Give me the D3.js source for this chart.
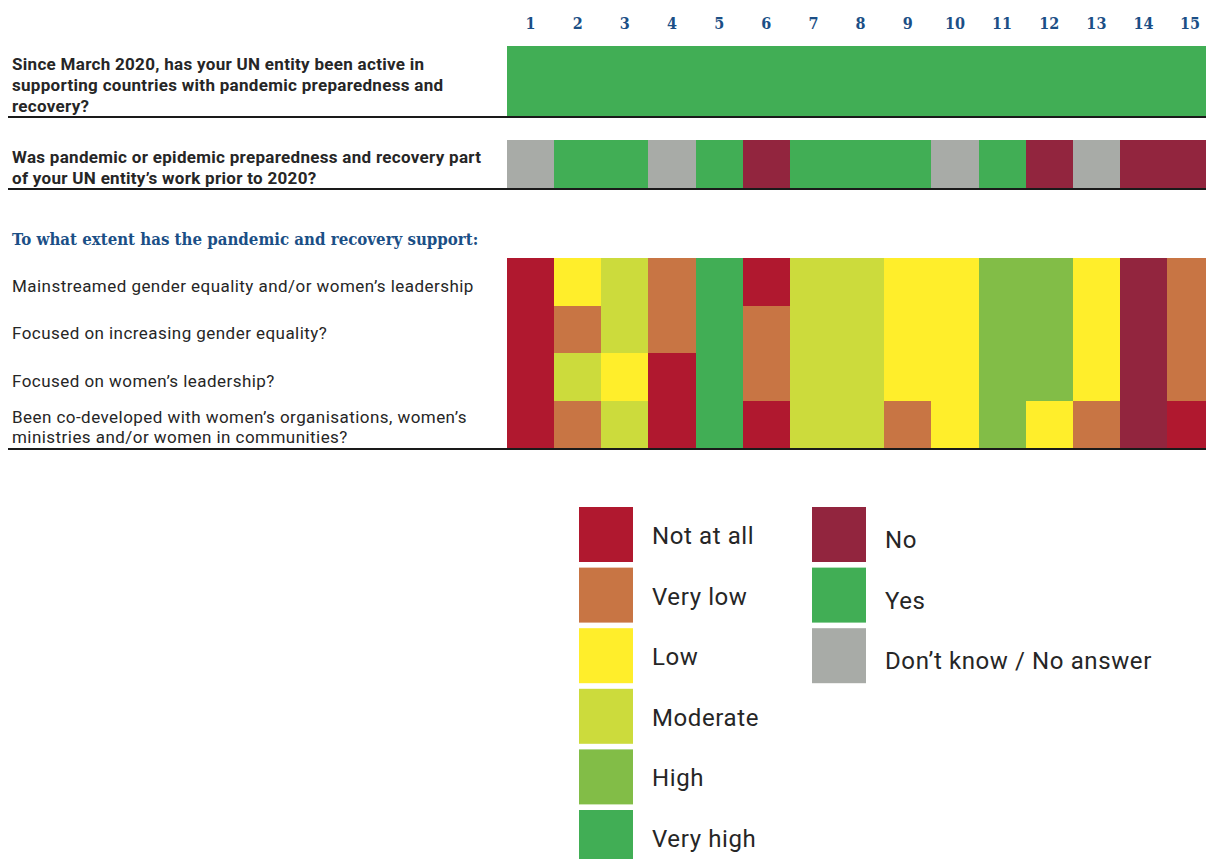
<!DOCTYPE html>
<html>
<head>
<meta charset="utf-8">
<script src="https://cdn.jsdelivr.net/npm/d3@7"></script>
<style>
  body { margin: 0; background: #fff; }
  svg { display: block; }
</style>
</head>
<body>
<script>
//=========================== data ============================================

var entities = d3.range(1, 16);

var yesNoQuestions = [
    ["Since March 2020, has your UN entity been active in",
     "supporting countries with pandemic preparedness and",
     "recovery?"],
    ["Was pandemic or epidemic preparedness and recovery part",
     "of your UN entity\u2019s work prior to 2020?"]
];
var activeSince2020 = ["Yes","Yes","Yes","Yes","Yes","Yes","Yes","Yes","Yes","Yes","Yes","Yes","Yes","Yes","Yes"];
var workPrior2020   = ["DK","Yes","Yes","DK","Yes","No","Yes","Yes","Yes","DK","Yes","No","DK","No","No"];

var sectionTitle = "To what extent has the pandemic and recovery support:";

var extentQuestions = [
    ["Mainstreamed gender equality and/or women\u2019s leadership"],
    ["Focused on increasing gender equality?"],
    ["Focused on women\u2019s leadership?"],
    ["Been co-developed with women\u2019s organisations, women\u2019s",
     "ministries and/or women in communities?"]
];
var mainstreamed   = ["NotAtAll","Low","Moderate","VeryLow","VeryHigh","NotAtAll","Moderate","Moderate","Low","Low","High","High","Low","No","VeryLow"];
var genderEquality = ["NotAtAll","VeryLow","Moderate","VeryLow","VeryHigh","VeryLow","Moderate","Moderate","Low","Low","High","High","Low","No","VeryLow"];
var leadership     = ["NotAtAll","Moderate","Low","NotAtAll","VeryHigh","VeryLow","Moderate","Moderate","Low","Low","High","High","Low","No","VeryLow"];
var coDeveloped    = ["NotAtAll","VeryLow","Moderate","NotAtAll","VeryHigh","NotAtAll","Moderate","Moderate","VeryLow","Low","High","Low","VeryLow","No","NotAtAll"];

var extentKeys   = ["NotAtAll","VeryLow","Low","Moderate","High","VeryHigh"];
var extentLabels = ["Not at all","Very low","Low","Moderate","High","Very high"];
var answerKeys   = ["No","Yes","DK"];
var answerLabels = ["No","Yes","Don\u2019t know / No answer"];

//=========================== drawing =========================================

var color = d3.scaleOrdinal()
    .domain(extentKeys.concat(answerKeys))
    .range(["#b0182f","#c87544","#ffee2b","#ccdb3c","#82bd47","#41ae55",
            "#92253e","#41ae55","#a8aba7"]);

var svg = d3.select("body").append("svg")
    .attr("width", 1206)
    .attr("height", 859);

var x = d3.scaleBand()
    .domain(entities)
    .range([507, 507 + 15 * 47.15]);

var textFont = "Roboto, 'Liberation Sans', sans-serif";
var slabFont = "'DejaVu Serif Condensed', 'DejaVu Serif', serif";

// column numbers
svg.append("g").selectAll("text")
    .data(entities)
    .join("text")
    .attr("x", d => Math.min(x(d) + x.bandwidth() / 2, 1190))
    .attr("y", 29)
    .attr("text-anchor", "middle")
    .style("font-family", slabFont)
    .style("font-weight", "bold")
    .style("font-size", "16px")
    .style("fill", "#1b4f86")
    .text(d => d);

function drawLabel(lines, yTop, lineH, bold) {
    var t = svg.append("text")
        .style("font-family", textFont)
        .style("font-size", "17px")
        .style("letter-spacing", bold ? "0.3px" : "0.45px")
        .style("font-weight", bold ? "bold" : "normal")
        .style("fill", "#262626");
    t.selectAll("tspan")
        .data(lines)
        .join("tspan")
        .attr("x", 12)
        .attr("y", (d, i) => yTop + i * lineH)
        .text(d => d);
}

function drawRule(y) {
    svg.append("line")
        .attr("x1", 8).attr("x2", 1206)
        .attr("y1", y).attr("y2", y)
        .style("stroke", "#1a1a1a")
        .style("stroke-width", 2);
}

// yes / no rows
var yesNoRows = [
    {values: activeSince2020, top: 46, height: 70, labelY: 70},
    {values: workPrior2020,   top: 140, height: 48, labelY: 163}
];
yesNoRows.forEach(function(row, i) {
    svg.append("g").selectAll("rect")
        .data(row.values)
        .join("rect")
        .attr("x", (d, j) => x(entities[j]))
        .attr("y", row.top)
        .attr("width", x.bandwidth() + 0.5)
        .attr("height", row.height)
        .attr("shape-rendering", "crispEdges")
        .style("fill", d => color(d));
    drawLabel(yesNoQuestions[i], row.labelY, 21, true);
    drawRule(row.top + row.height + 1);
});

// section title
svg.append("text")
    .attr("x", 12)
    .attr("y", 245)
    .style("font-family", slabFont)
    .style("font-weight", "bold")
    .style("font-size", "16.7px")
    .style("fill", "#1b4f86")
    .text(sectionTitle);

// extent heatmap
var extentRows = [mainstreamed, genderEquality, leadership, coDeveloped];
var y = d3.scaleBand()
    .domain(d3.range(extentRows.length))
    .range([258, 448]);

extentRows.forEach(function(values, r) {
    svg.append("g").selectAll("rect")
        .data(values)
        .join("rect")
        .attr("x", (d, j) => x(entities[j]))
        .attr("y", y(r))
        .attr("width", x.bandwidth() + 0.5)
        .attr("height", y.bandwidth() + 0.5)
        .attr("shape-rendering", "crispEdges")
        .style("fill", d => color(d));
    var lines = extentQuestions[r];
    var top = lines.length == 1 ? y(r) + y.bandwidth() / 2 + 10 : y(r) + 22;
    drawLabel(lines, top, 20, false);
});
drawRule(449);

// legend
function drawLegend(keys, labels, x0, y0, dy) {
    var g = svg.append("g").selectAll("g")
        .data(keys)
        .join("g")
        .attr("transform", (d, i) => "translate(" + x0 + "," + (y0 + i * 60.6) + ")");
    g.append("rect")
        .attr("width", 54)
        .attr("height", 55)
        .style("fill", d => color(d));
    g.append("text")
        .attr("x", 73)
        .attr("y", dy)
        .style("font-family", textFont)
        .style("font-size", "24px")
        .style("letter-spacing", "0.6px")
        .style("fill", "#262626")
        .text((d, i) => labels[i]);
}
drawLegend(extentKeys, extentLabels, 579, 507, 37);
drawLegend(answerKeys, answerLabels, 812, 507, 41);
</script>
</body>
</html>
